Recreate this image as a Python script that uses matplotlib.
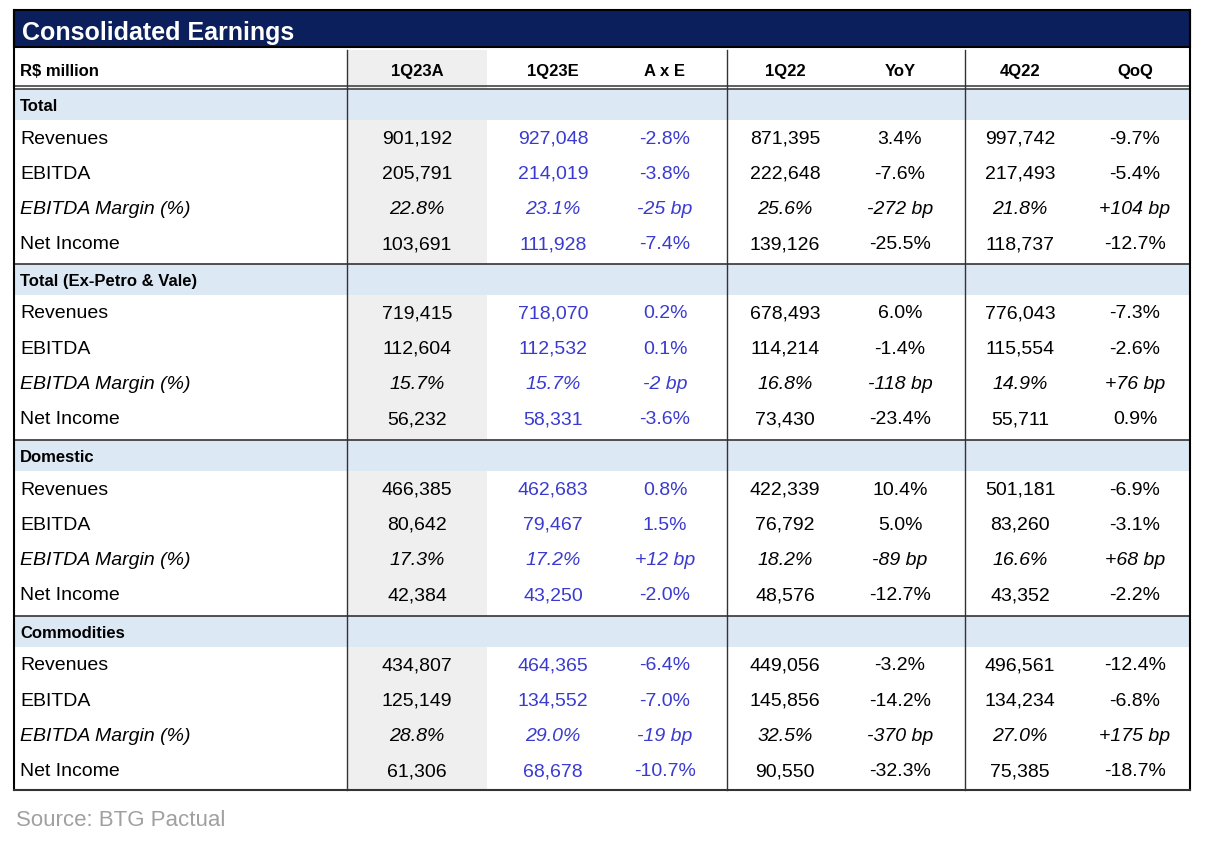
import matplotlib.pyplot as plt
from matplotlib.patches import Rectangle

plt.rcParams['font.family'] = ['Liberation Sans', 'DejaVu Sans']

TITLE = 'Consolidated Earnings'
COLUMNS = ['1Q23A', '1Q23E', 'A x E', '1Q22', 'YoY', '4Q22', 'QoQ']
SECTIONS = ['Total', 'Total (Ex-Petro & Vale)', 'Domestic', 'Commodities']
ROW_LABELS = ['Revenues', 'EBITDA', 'EBITDA Margin (%)', 'Net Income']

total = [
  ['901,192', '927,048', '-2.8%', '871,395', '3.4%', '997,742', '-9.7%'],
  ['205,791', '214,019', '-3.8%', '222,648', '-7.6%', '217,493', '-5.4%'],
  ['22.8%', '23.1%', '-25 bp', '25.6%', '-272 bp', '21.8%', '+104 bp'],
  ['103,691', '111,928', '-7.4%', '139,126', '-25.5%', '118,737', '-12.7%'],
]
ex_petro_vale = [
  ['719,415', '718,070', '0.2%', '678,493', '6.0%', '776,043', '-7.3%'],
  ['112,604', '112,532', '0.1%', '114,214', '-1.4%', '115,554', '-2.6%'],
  ['15.7%', '15.7%', '-2 bp', '16.8%', '-118 bp', '14.9%', '+76 bp'],
  ['56,232', '58,331', '-3.6%', '73,430', '-23.4%', '55,711', '0.9%'],
]
domestic = [
  ['466,385', '462,683', '0.8%', '422,339', '10.4%', '501,181', '-6.9%'],
  ['80,642', '79,467', '1.5%', '76,792', '5.0%', '83,260', '-3.1%'],
  ['17.3%', '17.2%', '+12 bp', '18.2%', '-89 bp', '16.6%', '+68 bp'],
  ['42,384', '43,250', '-2.0%', '48,576', '-12.7%', '43,352', '-2.2%'],
]
commodities = [
  ['434,807', '464,365', '-6.4%', '449,056', '-3.2%', '496,561', '-12.4%'],
  ['125,149', '134,552', '-7.0%', '145,856', '-14.2%', '134,234', '-6.8%'],
  ['28.8%', '29.0%', '-19 bp', '32.5%', '-370 bp', '27.0%', '+175 bp'],
  ['61,306', '68,678', '-10.7%', '90,550', '-32.3%', '75,385', '-18.7%'],
]
DATA = [total, ex_petro_vale, domestic, commodities]

NAVY = '#0b1f5c'
BLUE_TXT = '#3a3ad0'
SECTION_BG = '#dde8f5'
GRAY_COL = '#efefef'

fig = plt.figure(figsize=(12.06, 8.5), dpi=100)
ax = fig.add_axes([0, 0, 1, 1])
ax.set_xlim(0, 1206)
ax.set_ylim(850, 0)
ax.axis('off')

L, R = 14, 1190
col_x = [417, 553, 665, 785, 900, 1020, 1135]
vlines = [347, 727, 965]
VA = 'center_baseline'

# title bar
ax.add_patch(Rectangle((L, 10), R - L, 37, facecolor=NAVY, edgecolor='black', lw=1.5))
ax.text(L + 8, 30, TITLE, color='white', fontsize=18, fontweight='bold', va=VA)

# gray column
ax.add_patch(Rectangle((347, 50), 140, 740, facecolor=GRAY_COL, edgecolor='none', zorder=0))

# header
ax.text(L + 6, 70, 'R$ million', fontsize=12, fontweight='bold', va=VA)
for x, c in zip(col_x, COLUMNS):
  ax.text(x, 70, c, fontsize=12, fontweight='bold', va=VA, ha='center')
ax.plot([L, R], [86, 86], color='#444444', lw=1.2)
ax.plot([L, R], [89, 89], color='#444444', lw=1.2)

sec_top = [89, 264, 440, 616]
row_h = 35.2
for si, (sec, rows) in enumerate(zip(SECTIONS, DATA)):
  top = sec_top[si]
  ax.add_patch(Rectangle((L, top), R - L, 31, facecolor=SECTION_BG, edgecolor='none', zorder=0.5))
  ax.text(L + 6, top + 16, sec, fontsize=12, fontweight='bold', va=VA)
  for ri, (lab, vals) in enumerate(zip(ROW_LABELS, rows)):
    y = top + 48 + ri * row_h
    italic = 'italic' if ri == 2 else 'normal'
    ax.text(L + 6, y, lab, fontsize=14, style=italic, va=VA)
    for ci, (x, v) in enumerate(zip(col_x, vals)):
      color = BLUE_TXT if ci in (1, 2) else 'black'
      ax.text(x, y, v, fontsize=14, style=italic, va=VA, ha='center', color=color)
  if si > 0:
    ax.plot([L, R], [top, top], color='#333333', lw=1.2)

bottom = 790
for x in vlines:
  ax.plot([x, x], [50, bottom], color='#333333', lw=1.0)
ax.plot([L, L], [10, bottom], color='black', lw=1.5)
ax.plot([R, R], [10, bottom], color='black', lw=1.5)
ax.plot([L, R], [bottom, bottom], color='#333333', lw=1.5)

ax.text(16, 818, 'Source: BTG Pactual', fontsize=16, color='#a0a0a0', va=VA)

fig.savefig('out.png', dpi=100)
